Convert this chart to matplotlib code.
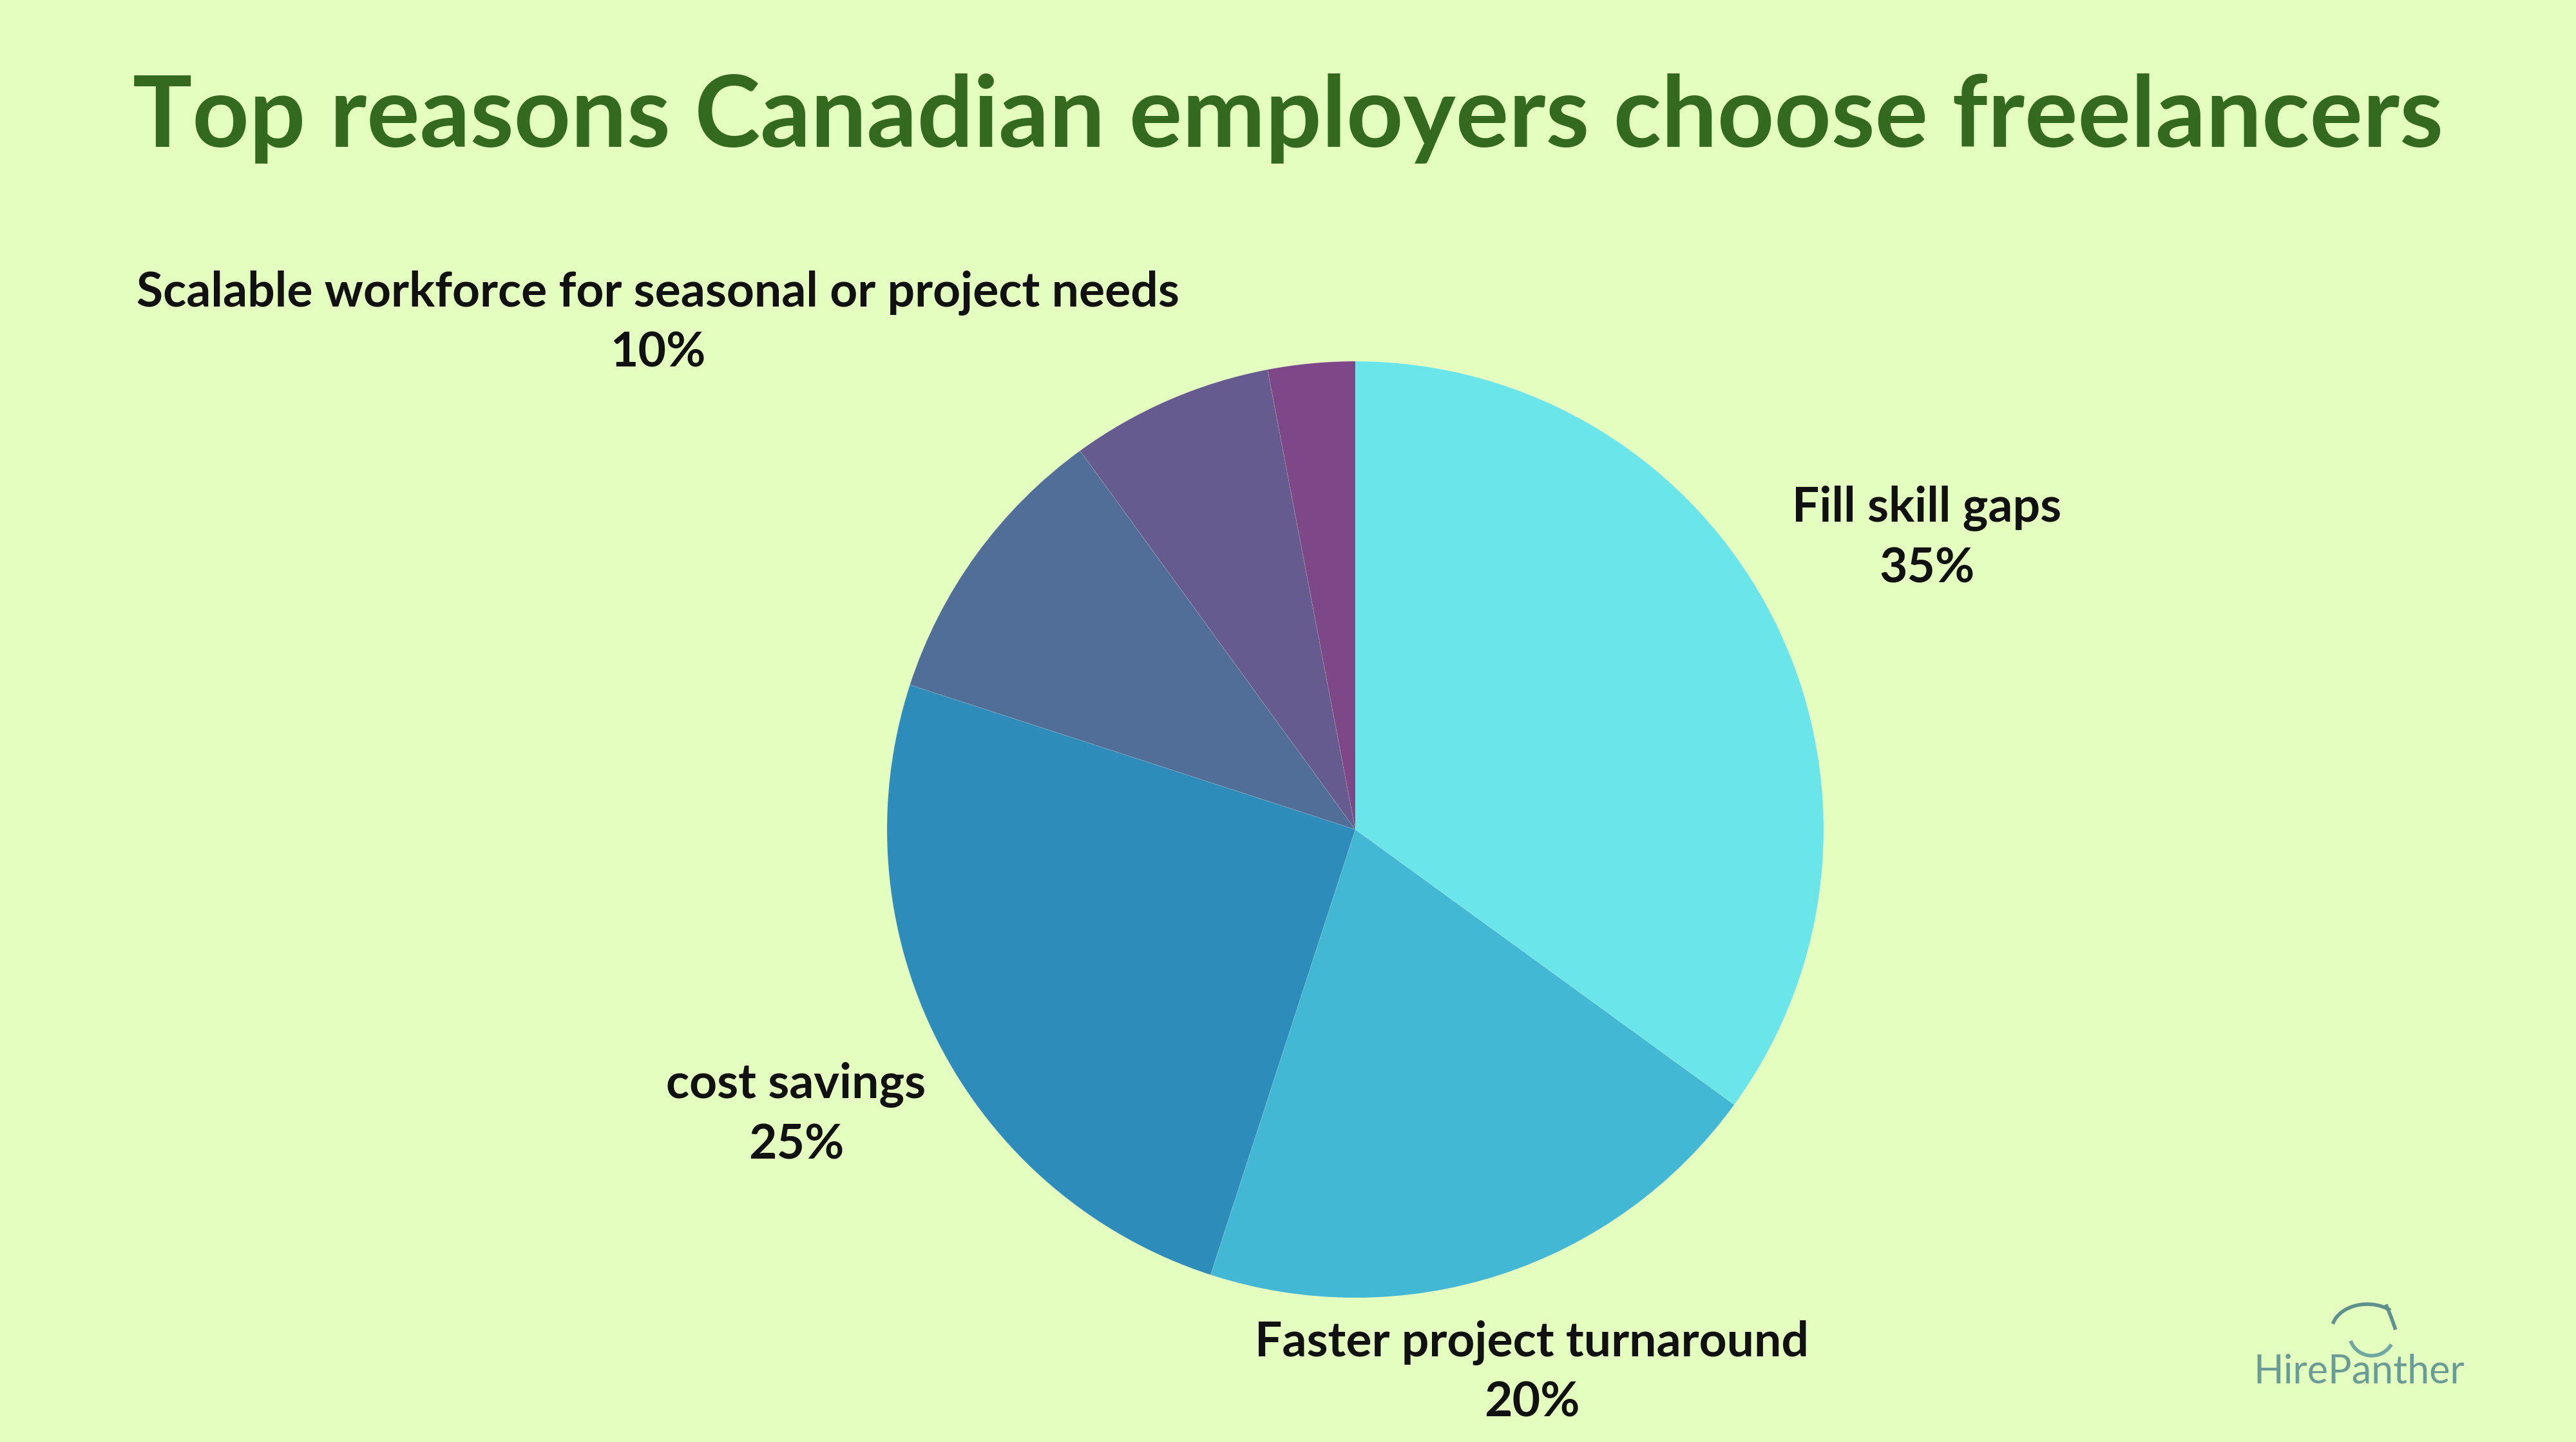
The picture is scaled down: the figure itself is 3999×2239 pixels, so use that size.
import numpy as np
import matplotlib
matplotlib.use("Agg")
import matplotlib.pyplot as plt
from matplotlib.patches import Arc

# ---- data ----
categories = ["Fill skill gaps", "Faster project turnaround", "cost savings",
              "Scalable workforce for seasonal or project needs", "", ""]
values = [35, 20, 25, 10, 7, 3]
show_label = [True, True, True, True, False, False]
colors = ["#6AE5E9", "#42B8D5", "#2E8CBB", "#516E98", "#655B8E", "#7E4787"]
label_dist = [1.37, 1.22, 1.34, 1.84, 1.2, 1.2]

title = "Top reasons Canadian employers choose freelancers"
bg = "#E4FEC0"

W, H = 3999, 2239
fig = plt.figure(figsize=(W / 100, H / 100), dpi=100, facecolor=bg)
ax = fig.add_axes([0, 0, 1, 1])
ax.set_facecolor(bg)

cx, cy, R = 2104, 951, 727
wedges, _ = ax.pie(values, colors=colors, startangle=90, counterclock=False,
                   center=(cx, cy), radius=R, frame=True,
                   wedgeprops=dict(linewidth=0.6, edgecolor=(1, 1, 1, 0.15)))
ax.set_xlim(0, W)
ax.set_ylim(0, H)
ax.set_aspect("equal")
ax.axis("off")

for w, lab, v, show, d in zip(wedges, categories, values, show_label, label_dist):
    if not show:
        continue
    ang = np.deg2rad((w.theta1 + w.theta2) / 2)
    x = cx + R * d * np.cos(ang)
    y = cy + R * d * np.sin(ang)
    ax.text(x, y, f"{lab}\n{v}%", ha="center", va="center", fontsize=54,
            fontweight="bold", family=["Lato", "DejaVu Sans"], color="#111111",
            linespacing=1.42, multialignment="center")

fig.text(0.5, 1 - 184 / H, title, ha="center", va="center", fontsize=111,
         fontweight="bold", family=["Lato", "DejaVu Sans"], color="#336A1F")

# watermark
fig.text(3662 / W, 1 - 2130 / H, "HirePanther", ha="center", va="center",
         fontsize=44, fontweight="normal", family=["Lato", "DejaVu Sans"],
         color="#6A9C96")
# simple panther head outline
lc = "#5F918C"
ax.add_patch(Arc((3675, H - 2065), 110, 80, theta1=40, theta2=170, lw=4, color=lc))
ax.add_patch(Arc((3682, H - 2070), 70, 70, theta1=200, theta2=330, lw=4, color="#6FA8A2"))
ax.plot([3705, 3712, 3718], [H - 2028, H - 2045, H - 2062], lw=4, color=lc)

fig.savefig("out.png", dpi=100, facecolor=bg)
